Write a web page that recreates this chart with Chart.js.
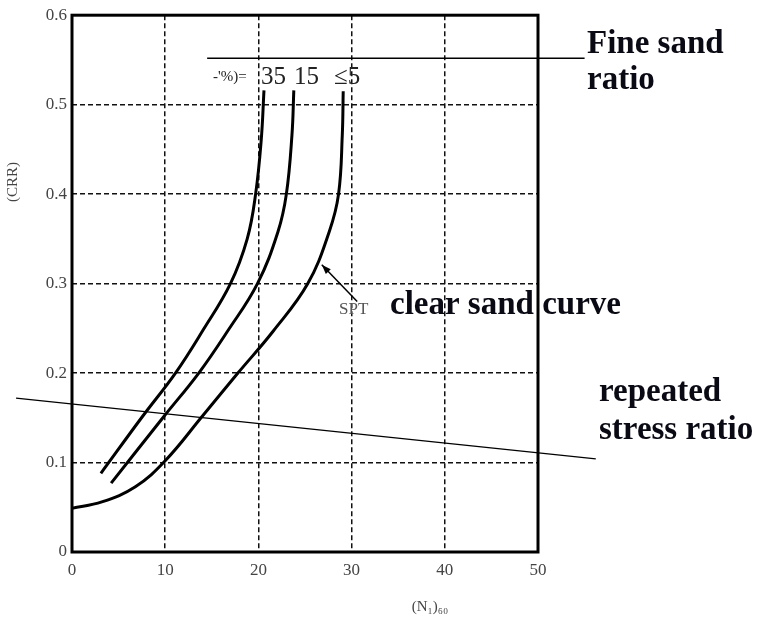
<!DOCTYPE html>
<html>
<head>
<meta charset="utf-8">
<script src="https://cdn.jsdelivr.net/npm/chart.js@4"></script>
<style>
  body { margin: 0; background: #fff; }
  canvas { display: block; }
</style>
</head>
<body>
<canvas id="crrChart" width="759" height="617"></canvas>
<script>
// curves: (N1)60 vs CRR for each fines content
const fines35 = [[3.1, 0.088], [7.6, 0.152], [11.1, 0.2], [14.0, 0.247], [17.0, 0.3], [18.8, 0.35], [19.7, 0.4], [20.3, 0.46], [20.6, 0.516]];
const fines15 = [[4.2, 0.077], [9.9, 0.152], [13.6, 0.2], [16.7, 0.247], [19.9, 0.3], [22.1, 0.358], [23.0, 0.4], [23.6, 0.466], [23.8, 0.516]];
const fines5 = [[0, 0.049], [3.2, 0.056], [6.8, 0.073], [10, 0.102], [14, 0.152], [17.8, 0.2], [21.6, 0.247], [25.3, 0.3], [27.6, 0.358], [28.6, 0.4], [29.0, 0.466], [29.1, 0.515]];
const stressLine = [[-6, 0.172], [56.2, 0.104]];
const fineSandLeader = [[14.5, 0.552], [55, 0.552]];
const xTicks = [0, 10, 20, 30, 40, 50];
const yTicks = [0, 0.1, 0.2, 0.3, 0.4, 0.5, 0.6];

const toPts = arr => arr.map(p => ({ x: p[0], y: p[1] }));
const serif = '"Liberation Serif", "DejaVu Serif", serif';

function curve(arr, width) {
    return { data: toPts(arr), showLine: true, borderColor: '#000', borderWidth: width, pointRadius: 0, tension: 0.4, fill: false };
}

const extras = {
    id: 'extras',
    afterDraw(chart) {
        const { ctx, chartArea: a, scales: { x, y } } = chart;
        ctx.save();
        // plot frame
        ctx.strokeStyle = '#000';
        ctx.lineWidth = 3;
        ctx.strokeRect(a.left, a.top, a.right - a.left, a.bottom - a.top);

        // arrow to the clean sand curve
        const x0 = x.getPixelForValue(30.6), y0 = y.getPixelForValue(0.28);
        const x1 = x.getPixelForValue(26.8), y1 = y.getPixelForValue(0.321);
        ctx.lineWidth = 1.5;
        ctx.beginPath(); ctx.moveTo(x0, y0); ctx.lineTo(x1, y1); ctx.stroke();
        const ang = Math.atan2(y1 - y0, x1 - x0);
        ctx.beginPath();
        ctx.moveTo(x1, y1);
        ctx.lineTo(x1 - 10 * Math.cos(ang - 0.35), y1 - 10 * Math.sin(ang - 0.35));
        ctx.lineTo(x1 - 10 * Math.cos(ang + 0.35), y1 - 10 * Math.sin(ang + 0.35));
        ctx.closePath(); ctx.fillStyle = '#000'; ctx.fill();

        // curve labels
        ctx.fillStyle = '#222';
        ctx.textBaseline = 'alphabetic';
        ctx.textAlign = 'left';
        ctx.font = '15px ' + serif;
        ctx.fillText("-'%)=", 213, 81);
        ctx.font = '25px ' + serif;
        ctx.fillText('35', 261, 84);
        ctx.fillText('15', 294, 84);
        ctx.fillText('\u22645', 334, 84);

        ctx.fillStyle = '#555';
        ctx.font = '17px ' + serif;
        ctx.fillText('SPT', 339, 314);

        // notes
        ctx.fillStyle = '#0a0a14';
        ctx.font = 'bold 33px ' + serif;
        ctx.fillText('Fine sand', 587, 53);
        ctx.fillText('ratio', 587, 89);
        ctx.fillText('clear sand curve', 390, 314);
        ctx.fillText('repeated', 599, 401);
        ctx.fillText('stress ratio', 599, 439);

        // axis titles
        ctx.fillStyle = '#444';
        ctx.font = '15px ' + serif;
        ctx.textAlign = 'center';
        ctx.fillText('(N\u2081)\u2086\u2080', 430, 611);
        ctx.translate(17, 182);
        ctx.rotate(-Math.PI / 2);
        ctx.fillText('(CRR)', 0, 0);
        ctx.restore();
    }
};

const gridColor = c => (c.tick && (c.index === 0 || c.index === c.chart.scales[c.scale.id].ticks.length - 1)) ? 'rgba(0,0,0,0)' : '#111';

new Chart(document.getElementById('crrChart'), {
    type: 'scatter',
    data: {
        datasets: [
            curve(fines35, 3),
            curve(fines15, 3),
            curve(fines5, 3),
            { data: toPts(stressLine), showLine: true, borderColor: '#000', borderWidth: 1.3, pointRadius: 0, clip: false },
            { data: toPts(fineSandLeader), showLine: true, borderColor: '#000', borderWidth: 1.5, pointRadius: 0, clip: false }
        ]
    },
    options: {
        responsive: false,
        devicePixelRatio: 1,
        animation: false,
        layout: { padding: { top: 12, right: 221, left: 0, bottom: 0 } },
        plugins: { legend: { display: false }, tooltip: { enabled: false } },
        scales: {
            x: {
                type: 'linear', min: 0, max: 50,
                afterBuildTicks: s => { s.ticks = xTicks.map(v => ({ value: v })); },
                afterFit: s => { s.height = 65; },
                grid: { color: gridColor, lineWidth: 1.5, drawTicks: false },
                border: { display: false, dash: [5, 3] },
                ticks: { padding: 8, color: '#444', font: { family: serif, size: 17 } }
            },
            y: {
                type: 'linear', min: 0, max: 0.6,
                afterBuildTicks: s => { s.ticks = yTicks.map(v => ({ value: v })); },
                afterFit: s => { s.width = 72; },
                grid: { color: gridColor, lineWidth: 1.5, drawTicks: false },
                border: { display: false, dash: [5, 3] },
                ticks: { padding: 5, color: '#444', font: { family: serif, size: 17 }, callback: v => v === 0 ? '0' : v.toFixed(1) }
            }
        }
    },
    plugins: [extras]
});
</script>
</body>
</html>
